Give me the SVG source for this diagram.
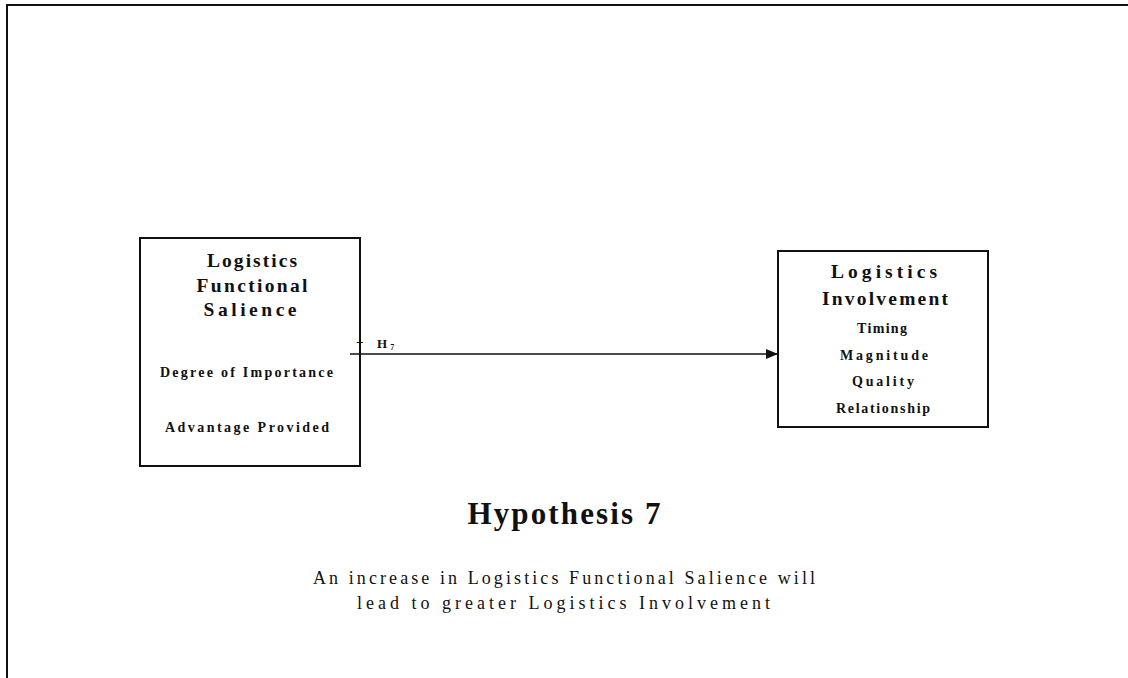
<svg xmlns="http://www.w3.org/2000/svg" width="1128" height="678" viewBox="0 0 1128 678">
  <style>
    .box { fill: #fff; stroke: #111; stroke-width: 2; }
    .head { font-family: "Liberation Serif", serif; font-weight: bold; font-size: 19.5px; fill: #111; text-anchor: middle; }
    .item { font-family: "Liberation Serif", serif; font-weight: bold; font-size: 14px; fill: #111; text-anchor: middle; }
    .title { font-family: "Liberation Serif", serif; font-weight: bold; font-size: 31px; fill: #111; text-anchor: middle; }
    .body { font-family: "Liberation Serif", serif; font-size: 18px; fill: #111; text-anchor: middle; }
    .lbl { font-family: "Liberation Serif", serif; font-weight: bold; font-size: 13px; fill: #111; }
  </style>
  <defs>
    <marker id="arrow" markerWidth="12" markerHeight="10" refX="12" refY="5" orient="auto" markerUnits="userSpaceOnUse">
      <path d="M0,0 L12,5 L0,10 Z" fill="#111"/>
    </marker>
  </defs>
  <rect width="1128" height="678" fill="#fff"/>
  <!-- page frame: top and left rules -->
  <path d="M7,678 V5 H1128" fill="none" stroke="#111" stroke-width="2"/>

  <g id="salience">
    <rect class="box" x="140" y="238" width="220" height="228"/>
    <text class="head" x="252" y="267" textLength="90" lengthAdjust="spacing">Logistics</text>
    <text class="head" x="252" y="292" textLength="111" lengthAdjust="spacing">Functional</text>
    <text class="head" x="250" y="316" textLength="93" lengthAdjust="spacing">Salience</text>
    <text class="item" x="246.5" y="377" textLength="173" lengthAdjust="spacing">Degree of Importance</text>
    <text class="item" x="247" y="432" textLength="164" lengthAdjust="spacing">Advantage Provided</text>
  </g>

  <g id="involvement">
    <rect class="box" x="778" y="251" width="210" height="176"/>
    <text class="head" x="884" y="278" textLength="106" lengthAdjust="spacing">Logistics</text>
    <text class="head" x="885" y="305" textLength="126" lengthAdjust="spacing">Involvement</text>
    <text class="item" x="882" y="333" textLength="50" lengthAdjust="spacing">Timing</text>
    <text class="item" x="884" y="360" textLength="88" lengthAdjust="spacing">Magnitude</text>
    <text class="item" x="883" y="386" textLength="62" lengthAdjust="spacing">Quality</text>
    <text class="item" x="883" y="413" textLength="94" lengthAdjust="spacing">Relationship</text>
  </g>

  <g id="connectors">
    <line x1="350" y1="354" x2="778" y2="354" stroke="#111" stroke-width="1.6" marker-end="url(#arrow)"/>
    <text class="lbl" x="356" y="346">+</text>
    <text class="lbl" x="377" y="348">H<tspan font-size="8" dx="3" dy="2">7</tspan></text>
  </g>

  <g id="caption">
    <text class="title" x="564" y="524" textLength="193" lengthAdjust="spacing">Hypothesis 7</text>
    <text class="body" x="564" y="584" textLength="502" lengthAdjust="spacing">An increase in Logistics Functional Salience will</text>
    <text class="body" x="563.5" y="609" textLength="413" lengthAdjust="spacing">lead to greater Logistics Involvement</text>
  </g>
</svg>
